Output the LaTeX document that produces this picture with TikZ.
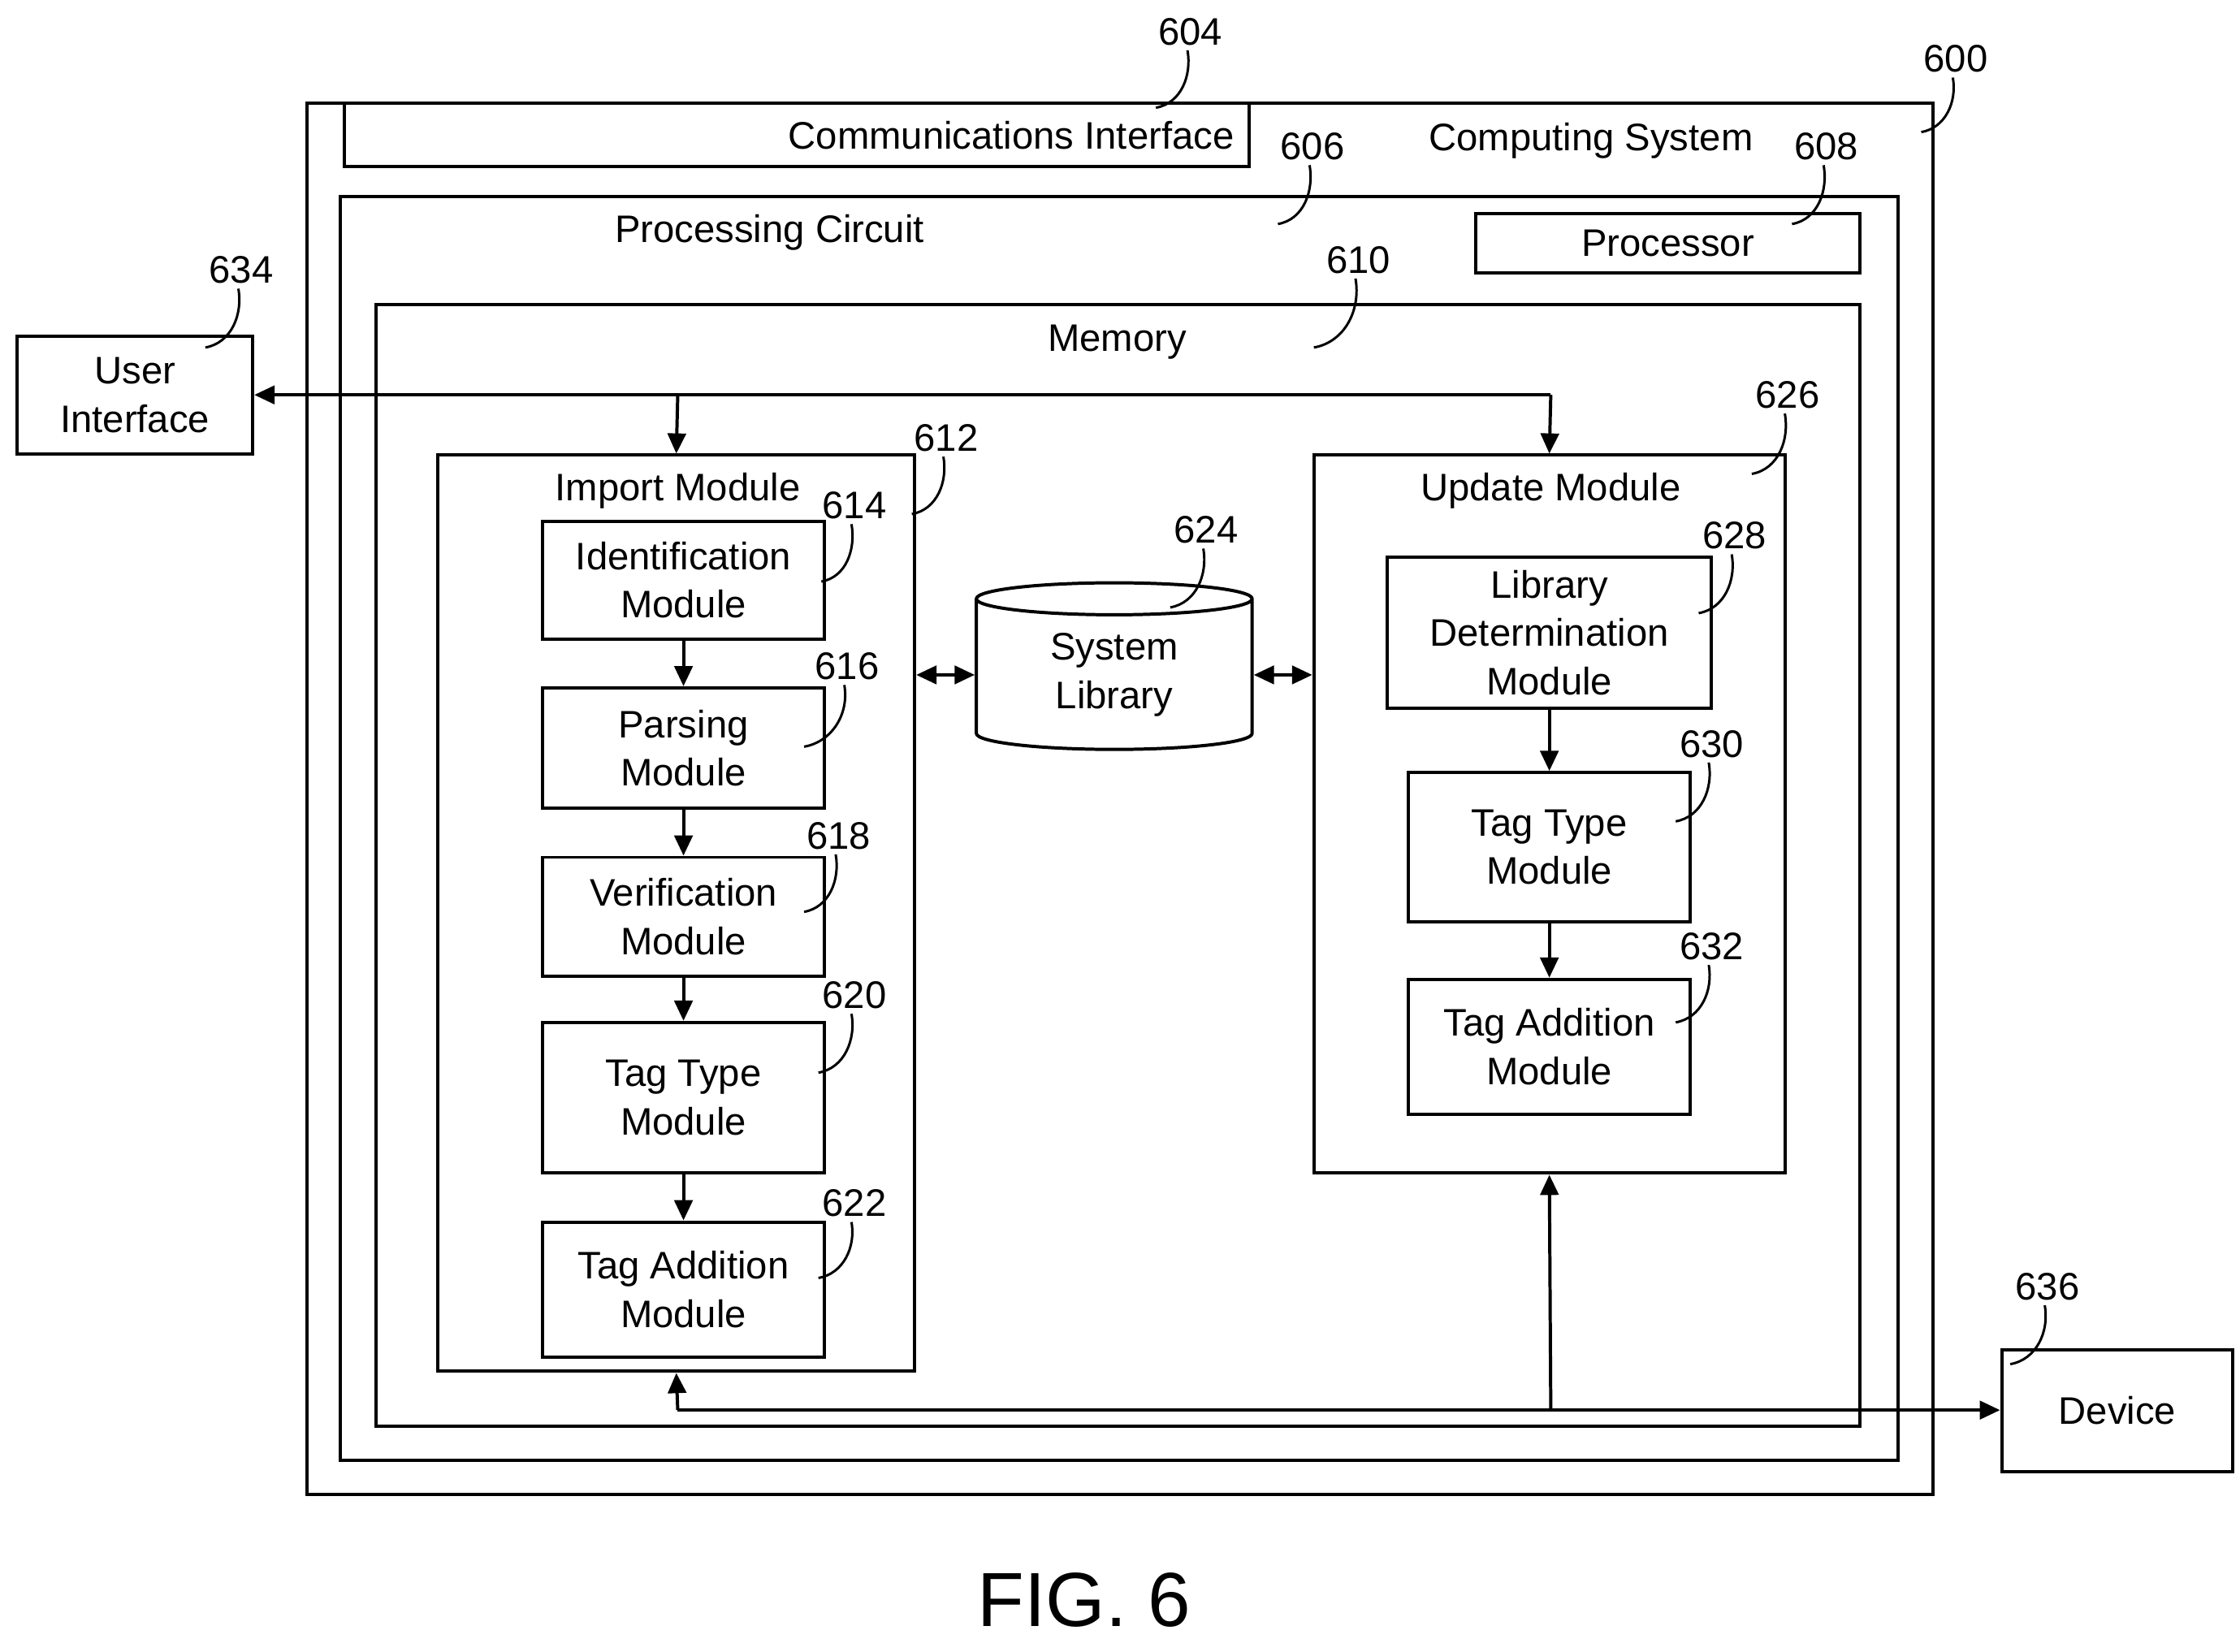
\documentclass[tikz,border=0pt]{standalone}
\usepackage{fontspec}
\setmainfont{Liberation Sans}
\usetikzlibrary{arrows.meta, fit, shapes.geometric, calc}
\tikzset{
    box/.style={draw,line width=0.8pt,inner sep=0pt},
    tt/.style={inner sep=0pt,align=center,font=\fontsize{9.5}{12}\selectfont},
    num/.style={inner sep=0pt,font=\fontsize{9.5}{12}\selectfont},
    lead/.style={line width=0.6pt},
    flow/.style={line width=0.8pt,-{Triangle[length=5pt,width=4.5pt]}},
    dflow/.style={line width=0.8pt,{Triangle[length=5pt,width=4.5pt]}-{Triangle[length=5pt,width=4.5pt]}},
}
\newcommand{\modbox}[3]{%
    \node[box, fit={#2}] (#1) {};
    \node[tt] (#1txt) at (#1.center) {#3};
}
\newcommand{\refnum}[3]{%
    \node[num] (n#3) at (#1) {#3};
    \coordinate (e#3) at (#2);
    \draw[lead] ($(n#3.south)+(-2,3)$) to[out=-80,in=10] (e#3);
}
\begin{document}
\begin{tikzpicture}[x=0.0125cm,y=-0.0125cm]
\useasboundingbox (0,0) rectangle (1560,1150);
% outer boxes
\node[box, fit={(214,72)(1346,1041)}] (cs) {};
\node[tt] (cslbl) at (1108,98) {Computing System};
\node[box, fit={(240,72)(870,116)}] (ci) {};
\node[tt, anchor=east] (cilbl) at (860,94) {Communications Interface};
\node[box, fit={(237,137)(1322,1017)}] (pc) {};
\node[tt] (pclbl) at (536,162) {Processing Circuit};
\modbox{proc}{(1028,149)(1295,190)}{Processor}
\node[box, fit={(262,212)(1295,993)}] (mem) {};
\node[tt] (memlbl) at (778,238) {Memory};
% import module
\node[box, fit={(305,317)(637,955)}] (imp) {};
\node[tt] (implbl) at (472,342) {Import Module};
\modbox{idm}{(378,363)(574,445)}{Identification\\Module}
\modbox{parse}{(378,479)(574,563)}{Parsing\\Module}
\modbox{verif}{(378,597)(574,680)}{Verification\\Module}
\modbox{ttype}{(378,712)(574,817)}{Tag Type\\Module}
\modbox{tadd}{(378,851)(574,945)}{Tag Addition\\Module}
% update module
\node[box, fit={(915,317)(1243,817)}] (upd) {};
\node[tt] (updlbl) at (1080,342) {Update Module};
\modbox{libdet}{(966,388)(1192,493)}{Library\\Determination\\Module}
\modbox{uttype}{(981,538)(1177,642)}{Tag Type\\Module}
\modbox{utadd}{(981,682)(1177,776)}{Tag Addition\\Module}
% library
\node[box, tt, cylinder, shape border rotate=90, aspect=0.25,
      minimum width=2.4cm, minimum height=1.45cm] (lib) at (776,470) {System\\Library};
% outside
\modbox{ui}{(12,234)(176,316)}{User\\Interface}
\modbox{dev}{(1394,940)(1555,1025)}{Device}
\node[inner sep=0pt, font=\fontsize{19}{22}\selectfont] (fig) at (755,1114) {FIG. 6};
% connectors
\coordinate (jt) at (472,275);
\coordinate (jb) at (472,982);
\coordinate (ut) at (1080,275);
\coordinate (ub) at (1080,982);
\draw[flow] (ut) -- (ui.east |- ut);
\draw[flow] (jt) -- (imp.north);
\draw[flow] (ut) -- (upd.north);
\draw[flow] (jb) -- (dev.west |- jb);
\draw[flow] (jb) -- (imp.south);
\draw[flow] (ub) -- (upd.south);
\draw[flow] (idm) -- (parse);
\draw[flow] (parse) -- (verif);
\draw[flow] (verif) -- (ttype);
\draw[flow] (ttype) -- (tadd);
\draw[flow] (libdet) -- (uttype);
\draw[flow] (uttype) -- (utadd);
\draw[dflow] (imp.east |- lib) -- (lib.west);
\draw[dflow] (lib.east) -- (upd.west |- lib);
% reference numerals
\refnum{1362,41}{1338,92}{600}
\refnum{829,22}{805,75}{604}
\refnum{914,102}{890,156}{606}
\refnum{1272,102}{1248,156}{608}
\refnum{946,181}{915,242}{610}
\refnum{659,305}{635,358}{612}
\refnum{595,352}{572,405}{614}
\refnum{590,464}{560,520}{616}
\refnum{584,582}{560,635}{618}
\refnum{595,693}{570,747}{620}
\refnum{595,838}{570,890}{622}
\refnum{840,369}{815,423}{624}
\refnum{1245,275}{1220,330}{626}
\refnum{1208,373}{1183,427}{628}
\refnum{1192,518}{1167,572}{630}
\refnum{1192,659}{1167,712}{632}
\refnum{168,188}{143,242}{634}
\refnum{1426,896}{1400,950}{636}
\end{tikzpicture}
\end{document}
